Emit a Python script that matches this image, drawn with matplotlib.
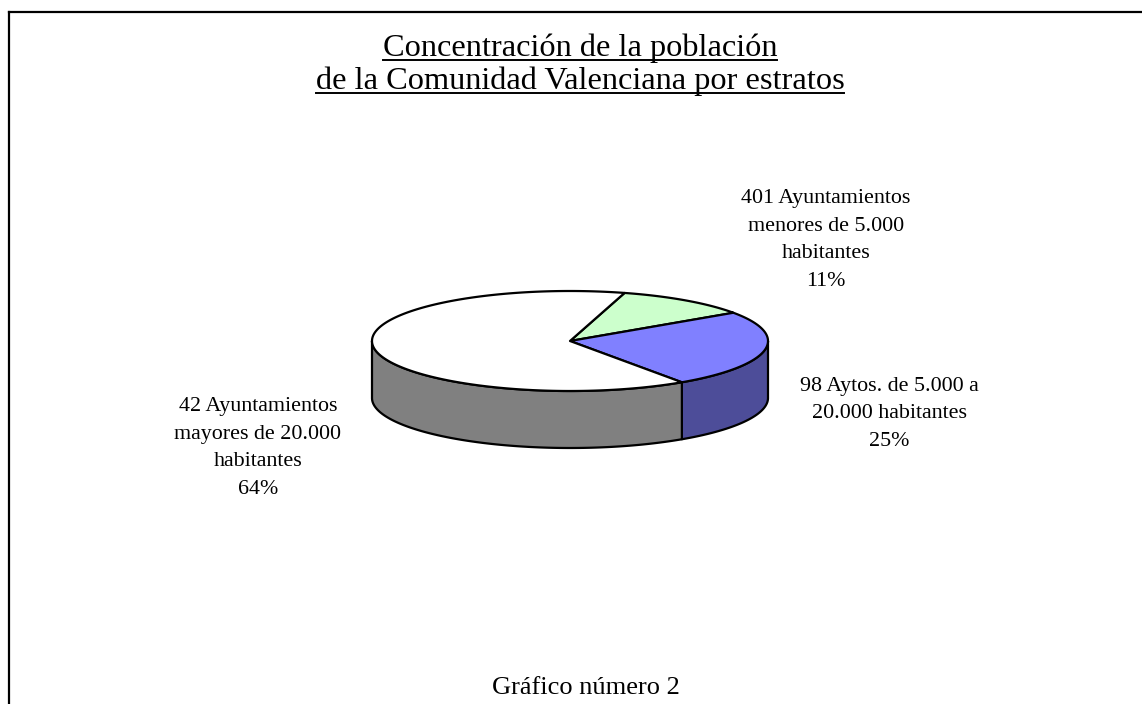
import numpy as np
import matplotlib.pyplot as plt
from matplotlib.patches import Polygon

plt.rcParams['font.family'] = ['Liberation Serif', 'DejaVu Serif']

# data
labels = ['401 Ayuntamientos\nmenores de 5.000\nhabitantes\n11%',
          '98 Aytos. de 5.000 a\n20.000 habitantes\n25%',
          '42 Ayuntamientos\nmayores de 20.000\nhabitantes\n64%']
shares = [11, 25, 64]
top_colors = ['#ccffcc', '#8080ff', '#ffffff']
side_colors = ['#66a066', '#4d4d99', '#808080']
label_pos = [(826, 240), (889, 414), (258, 448)]

title = ['Concentración de la población', 'de la Comunidad Valenciana por estratos']
footer = 'Gráfico número 2'

# layout (pixels)
W, H = 1142, 704
cx, cy, rx, ry, depth = 570, 341, 198, 50, 57
start = 16.0

fig = plt.figure(figsize=(W/100, H/100), dpi=100)
ax = fig.add_axes([0, 0, 1, 1])
ax.set_xlim(0, W)
ax.set_ylim(H, 0)
ax.axis('off')

def pt(phi, dy=0.0):
    r = np.radians(phi)
    return cx + rx*np.sin(r), cy - ry*np.cos(r) + dy

angles = start + np.concatenate([[0], np.cumsum(shares)]) * 3.6

# side walls (front half only, 90..270 deg)
for i in range(len(shares)):
    a0, a1 = max(angles[i], 90), min(angles[i+1], 270)
    if a1 <= a0:
        continue
    ph = np.linspace(a0, a1, 200)
    xt, yt = pt(ph)
    xb, yb = pt(ph[::-1], depth)
    poly = np.column_stack([np.concatenate([xt, xb]), np.concatenate([yt, yb])])
    ax.add_patch(Polygon(poly, closed=True, facecolor=side_colors[i],
                         edgecolor='black', linewidth=1.6, joinstyle='round'))

# top faces
for i in range(len(shares)):
    ph = np.linspace(angles[i], angles[i+1], 300)
    xt, yt = pt(ph)
    poly = np.column_stack([np.concatenate([[cx], xt]), np.concatenate([[cy], yt])])
    ax.add_patch(Polygon(poly, closed=True, facecolor=top_colors[i],
                         edgecolor='black', linewidth=1.6, joinstyle='round'))

for lab, (x, y) in zip(labels, label_pos):
    ax.text(x, y, lab, ha='center', va='center', fontsize=15.8,
            linespacing=1.62)

# title with underline
tts = []
for k, line in enumerate(title):
    tts.append(ax.text(580, 56 + 33*k, line, ha='center', va='baseline',
                       fontsize=23.3))
fig.canvas.draw()
rend = fig.canvas.get_renderer()
inv = ax.transData.inverted()
for t in tts:
    bb = t.get_window_extent(rend)
    (x0, _), (x1, _) = inv.transform([(bb.x0, bb.y0), (bb.x1, bb.y0)])
    _, yb = t.get_position()
    ax.plot([x0, x1], [yb + 3.5, yb + 3.5], color='black', linewidth=1.4)

ax.text(586, 688, footer, ha='center', va='center', fontsize=19)

# frame lines
ax.plot([9, 9], [H, 12], color='black', linewidth=1.6, solid_capstyle='projecting')
ax.plot([9, W], [12, 12], color='black', linewidth=1.6, solid_capstyle='projecting')

fig.savefig('out.png', dpi=100)
